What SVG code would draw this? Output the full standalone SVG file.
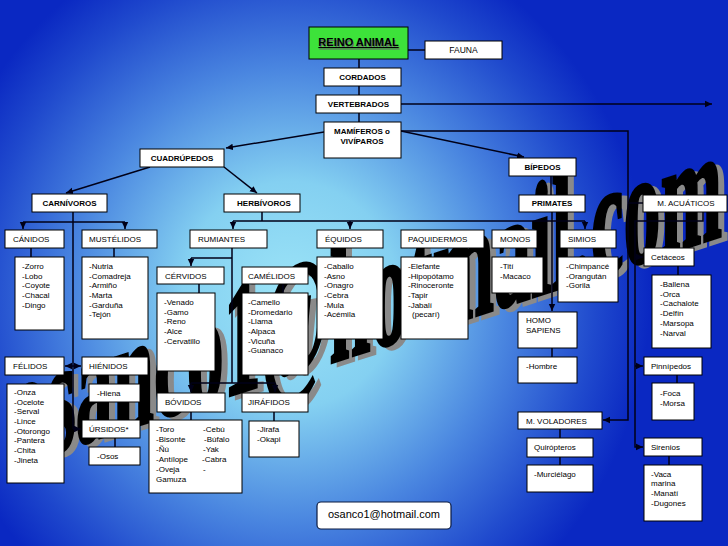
<svg xmlns="http://www.w3.org/2000/svg" width="728" height="546" viewBox="0 0 728 546">
<defs>
<radialGradient id="bg" gradientUnits="userSpaceOnUse" cx="290" cy="295" r="360" gradientTransform="translate(290 295) scale(1 1.05) translate(-290 -295)">
<stop offset="0" stop-color="#9ce4f7"/>
<stop offset="0.3" stop-color="#84d0f1"/>
<stop offset="0.6" stop-color="#4a86e0"/>
<stop offset="0.85" stop-color="#1f49cd"/>
<stop offset="1" stop-color="#0a28c2"/>
</radialGradient>
<marker id="ah" markerUnits="userSpaceOnUse" markerWidth="8" markerHeight="8" refX="7" refY="4" orient="auto">
<path d="M0,0.8 L7,4 L0,7.2 Z" fill="#000018"/>
</marker>
<style>
.box{fill:#fff;stroke:#000;stroke-width:1}
.ln{fill:none;stroke:#000018;stroke-width:1.5}
.ar{fill:none;stroke:#000018;stroke-width:1.5;marker-end:url(#ah)}
.t{font-family:"Liberation Sans",Arial,sans-serif;font-size:8px;fill:#000}
.b{font-weight:bold}
.c{text-anchor:middle}
.wm{font-family:"Liberation Serif","Times New Roman",serif;font-weight:bold;font-size:74px;stroke-width:1.5}
</style>
</defs>
<rect x="0" y="0" width="728" height="546" fill="url(#bg)"/>
<g id="watermark">
<text class="wm" fill="#8a8a8a" stroke="#8a8a8a" transform="translate(16 470) skewY(-18) scale(1 2.2)">osanco1@hotmail.com</text>
<text class="wm" fill="#000" stroke="#000" transform="translate(10 467) skewY(-18) scale(1 2.2)">osanco1@hotmail.com</text>
</g>
<g id="connectors">
<path class="ln" d="M408,50 H425"/>
<path class="ln" d="M359,59 V68 M359,86 V95 M359,113 V122"/>
<path class="ar" d="M401,104 H712"/>
<path class="ar" d="M324,132 L226,148"/>
<path class="ar" d="M401,131 H628 V420 H603"/>
<path class="ar" d="M401,131 L524,157"/>
<path class="ln" d="M628,203 H643"/>
<path class="ar" d="M703,212 V221 H635 V447 H643"/>
<path class="ar" d="M635,257 H643"/>
<path class="ar" d="M635,366 H643"/>
<path class="ar" d="M150,167 L66,193"/>
<path class="ar" d="M224,167 L257,193"/>
<path class="ln" d="M73,212 V429 M23,222 H125"/>
<path class="ar" d="M23,222 V229"/>
<path class="ar" d="M125,222 V229"/>
<path class="ar" d="M73,366 H65"/>
<path class="ar" d="M73,366 H81"/>
<path class="ar" d="M73,429 H81"/>
<path class="ln" d="M262,212 V221 M233,221 H585"/>
<path class="ar" d="M233,221 V229"/>
<path class="ar" d="M350,221 V229"/>
<path class="ar" d="M585,221 V229"/>
<path class="ln" d="M551,176 V195"/>
<path class="ar" d="M552,212 V311"/>
<path class="ln" d="M232,247 V383 M191,258 H232 M191,383 H275"/>
<path class="ar" d="M191,258 V266"/>
<path class="ar" d="M191,383 V392"/>
<path class="ar" d="M275,383 V392"/>
<path class="ln" d="M31,248 V257 M114,248 V257 M199,284 V293 M283,284 V293 M552,348 V357 M678,266 V275 M677,375 V383 M560,429 V438 M560,457 V465 M669,456 V465 M191,412 V420 M274,412 V421 M115,438 V447"/>
</g>
<g id="reino-animal">
<rect x="309" y="27" width="99" height="32" fill="#3de23a" stroke="#000" stroke-width="1"/>
<text class="t b c" x="359.5" y="47.5" style="font-size:11px;fill:#6a6a6a;text-decoration:underline">REINO ANIMAL</text>
<text class="t b c" x="358.5" y="46" style="font-size:11px;text-decoration:underline">REINO ANIMAL</text>
</g>
<g id="fauna"><rect class="box" x="425" y="41" width="77" height="18"/><text class="t c" x="463.5" y="53" style="font-size:8.5px">FAUNA</text></g>
<g id="cordados"><rect class="box" x="324" y="68" width="77" height="18"/><text class="t b c" x="362.5" y="80">CORDADOS</text></g>
<g id="vertebrados"><rect class="box" x="316" y="95" width="85" height="18"/><text class="t b c" x="358.5" y="107">VERTEBRADOS</text></g>
<g id="mamiferos"><rect class="box" x="324" y="122" width="77" height="36"/><text class="t b c" x="362" y="134">MAMÍFEROS o</text><text class="t b c" x="362" y="144">VIVÍPAROS</text></g>
<g id="cuadrupedos"><rect class="box" x="140" y="149" width="84" height="18"/><text class="t b c" x="182" y="161">CUADRÚPEDOS</text></g>
<g id="carnivoros"><rect class="box" x="32" y="194" width="75" height="18"/><text class="t b c" x="69.5" y="206">CARNÍVOROS</text></g>
<g id="herbivoros"><rect class="box" x="224" y="194" width="76" height="18"/><text class="t b c" x="264" y="206">HERBÍVOROS</text></g>
<g id="bipedos"><rect class="box" x="509" y="158" width="67" height="18"/><text class="t b c" x="542.5" y="170">BÍPEDOS</text></g>
<g id="primates"><rect class="box" x="519" y="195" width="66" height="17"/><text class="t b c" x="552" y="206">PRIMATES</text></g>
<g id="m-acuaticos"><rect class="box" x="643" y="195" width="84" height="17"/><text class="t c" x="686" y="206">M. ACUÁTICOS</text></g>
<g id="canidos"><rect class="box" x="5" y="230" width="59" height="18"/><text class="t" x="13" y="242">CÁNIDOS</text></g>
<g id="mustelidos"><rect class="box" x="82" y="230" width="75" height="18"/><text class="t" x="89" y="242">MUSTÉLIDOS</text></g>
<g id="rumiantes"><rect class="box" x="190" y="230" width="77" height="18"/><text class="t" x="198" y="242">RUMIANTES</text></g>
<g id="equidos"><rect class="box" x="317" y="230" width="66" height="18"/><text class="t" x="325" y="242">ÉQUIDOS</text></g>
<g id="paquidermos"><rect class="box" x="401" y="230" width="83" height="18"/><text class="t" x="408" y="242">PAQUIDERMOS</text></g>
<g id="monos"><rect class="box" x="492" y="230" width="45" height="18"/><text class="t" x="500" y="242">MONOS</text></g>
<g id="simios"><rect class="box" x="560" y="230" width="56" height="18"/><text class="t" x="568" y="242">SIMIOS</text></g>
<g id="cetaceos"><rect class="box" x="644" y="248" width="50" height="18"/><text class="t" x="651" y="260">Cetáceos</text></g>
<g id="canidos-lista"><rect class="box" x="15" y="257" width="49" height="73"/>
<text class="t" x="22" y="269">-Zorro</text><text class="t" x="22" y="279">-Lobo</text><text class="t" x="22" y="288">-Coyote</text><text class="t" x="22" y="298">-Chacal</text><text class="t" x="22" y="308">-Dingo</text></g>
<g id="mustelidos-lista"><rect class="box" x="82" y="257" width="66" height="82"/>
<text class="t" x="89" y="269">-Nutria</text><text class="t" x="89" y="279">-Comadreja</text><text class="t" x="89" y="288">-Armiño</text><text class="t" x="89" y="298">-Marta</text><text class="t" x="89" y="308">-Garduña</text><text class="t" x="89" y="317">-Tejón</text></g>
<g id="cervidos"><rect class="box" x="157" y="267" width="67" height="17"/><text class="t" x="165" y="279">CÉRVIDOS</text></g>
<g id="camelidos"><rect class="box" x="242" y="267" width="66" height="17"/><text class="t" x="248" y="279">CAMÉLIDOS</text></g>
<g id="cervidos-lista"><rect class="box" x="157" y="293" width="58" height="78"/>
<text class="t" x="164" y="305">-Venado</text><text class="t" x="164" y="315">-Gamo</text><text class="t" x="164" y="324">-Reno</text><text class="t" x="164" y="334">-Alce</text><text class="t" x="164" y="344">-Cervatillo</text></g>
<g id="camelidos-lista"><rect class="box" x="242" y="293" width="66" height="82"/>
<text class="t" x="248" y="305">-Camello</text><text class="t" x="248" y="315">-Dromedario</text><text class="t" x="248" y="324">-Llama</text><text class="t" x="248" y="334">-Alpaca</text><text class="t" x="248" y="344">-Vicuña</text><text class="t" x="248" y="353">-Guanaco</text></g>
<g id="equidos-lista"><rect class="box" x="317" y="257" width="66" height="82"/>
<text class="t" x="324" y="269">-Caballo</text><text class="t" x="324" y="279">-Asno</text><text class="t" x="324" y="288">-Onagro</text><text class="t" x="324" y="298">-Cebra</text><text class="t" x="324" y="308">-Mula</text><text class="t" x="324" y="317">-Acémila</text></g>
<g id="paquidermos-lista"><rect class="box" x="401" y="257" width="67" height="82"/>
<text class="t" x="408" y="269">-Elefante</text><text class="t" x="408" y="279">-Hipopótamo</text><text class="t" x="408" y="288">-Rinoceronte</text><text class="t" x="408" y="298">-Tapir</text><text class="t" x="408" y="308">-Jabalí</text><text class="t" x="412" y="317">(pecarí)</text></g>
<g id="monos-lista"><rect class="box" x="492" y="257" width="51" height="36"/>
<text class="t" x="500" y="269">-Tití</text><text class="t" x="500" y="279">-Macaco</text></g>
<g id="simios-lista"><rect class="box" x="558" y="257" width="60" height="45"/>
<text class="t" x="566" y="269">-Chimpancé</text><text class="t" x="566" y="279">-Orangután</text><text class="t" x="566" y="288">-Gorila</text></g>
<g id="homo-sapiens"><rect class="box" x="518" y="312" width="59" height="36"/><text class="t" x="526" y="323">HOMO</text><text class="t" x="526" y="333">SAPIENS</text></g>
<g id="hombre"><rect class="box" x="518" y="357" width="59" height="26"/><text class="t" x="526" y="369">-Hombre</text></g>
<g id="cetaceos-lista"><rect class="box" x="652" y="275" width="59" height="73"/>
<text class="t" x="660" y="287">-Ballena</text><text class="t" x="660" y="297">-Orca</text><text class="t" x="660" y="306">-Cachalote</text><text class="t" x="660" y="316">-Delfín</text><text class="t" x="660" y="326">-Marsopa</text><text class="t" x="660" y="336">-Narval</text></g>
<g id="pinnipedos"><rect class="box" x="644" y="357" width="58" height="18"/><text class="t" x="651" y="369">Pinnípedos</text></g>
<g id="pinnipedos-lista"><rect class="box" x="652" y="383" width="42" height="37"/>
<text class="t" x="660" y="396">-Foca</text><text class="t" x="660" y="406">-Morsa</text></g>
<g id="m-voladores"><rect class="box" x="518" y="412" width="84" height="17"/><text class="t" x="526" y="424">M. VOLADORES</text></g>
<g id="quiropteros"><rect class="box" x="527" y="438" width="66" height="19"/><text class="t" x="534" y="450">Quirópteros</text></g>
<g id="murcielago"><rect class="box" x="527" y="465" width="66" height="27"/><text class="t" x="534" y="477">-Murciélago</text></g>
<g id="sirenios"><rect class="box" x="644" y="438" width="58" height="18"/><text class="t" x="651" y="450">Sirenios</text></g>
<g id="sirenios-lista"><rect class="box" x="644" y="465" width="58" height="56"/>
<text class="t" x="651" y="477">-Vaca</text><text class="t" x="651" y="486">marina</text><text class="t" x="651" y="496">-Manatí</text><text class="t" x="651" y="506">-Dugones</text></g>
<g id="felidos"><rect class="box" x="5" y="357" width="59" height="18"/><text class="t" x="13" y="369">FÉLIDOS</text></g>
<g id="hienidos"><rect class="box" x="82" y="357" width="66" height="18"/><text class="t" x="89" y="369">HIÉNIDOS</text></g>
<g id="felidos-lista"><rect class="box" x="7" y="384" width="57" height="99"/>
<text class="t" x="14" y="395">-Onza</text><text class="t" x="14" y="405">-Ocelote</text><text class="t" x="14" y="414">-Serval</text><text class="t" x="14" y="424">-Lince</text><text class="t" x="14" y="434">-Otorongo</text><text class="t" x="14" y="443">-Pantera</text><text class="t" x="14" y="453">-Chita</text><text class="t" x="14" y="463">-Jineta</text></g>
<g id="hiena"><rect class="box" x="89" y="384" width="51" height="18"/><text class="t" x="97" y="396">-Hiena</text></g>
<g id="ursidos"><rect class="box" x="82" y="420" width="58" height="18"/><text class="t" x="89" y="432">ÚRSIDOS*</text></g>
<g id="osos"><rect class="box" x="89" y="447" width="51" height="18"/><text class="t" x="97" y="459">-Osos</text></g>
<g id="bovidos"><rect class="box" x="157" y="393" width="68" height="19"/><text class="t" x="165" y="405">BÓVIDOS</text></g>
<g id="jirafidos"><rect class="box" x="242" y="393" width="66" height="19"/><text class="t" x="248" y="405">JIRÁFIDOS</text></g>
<g id="bovidos-lista"><rect class="box" x="149" y="420" width="93" height="73"/>
<text class="t" x="156" y="432">-Toro</text><text class="t" x="156" y="442">-Bisonte</text><text class="t" x="156" y="452">-Ñú</text><text class="t" x="156" y="462">-Antílope</text><text class="t" x="156" y="472">-Oveja</text><text class="t" x="156" y="482">Gamuza</text>
<text class="t" x="203" y="432">-Cebú</text><text class="t" x="204" y="442">-Búfalo</text><text class="t" x="203" y="452">-Yak</text><text class="t" x="202" y="462">-Cabra</text><text class="t" x="203" y="472">-</text></g>
<g id="jirafidos-lista"><rect class="box" x="249" y="421" width="50" height="36"/>
<text class="t" x="257" y="432">-Jirafa</text><text class="t" x="257" y="442">-Okapi</text></g>
<g id="email"><rect x="317" y="502" width="134" height="27" rx="4" fill="#fff" stroke="#0a1a40" stroke-width="1.2"/><text class="t c" x="384" y="518" style="font-size:11px">osanco1@hotmail.com</text></g>
</svg>
